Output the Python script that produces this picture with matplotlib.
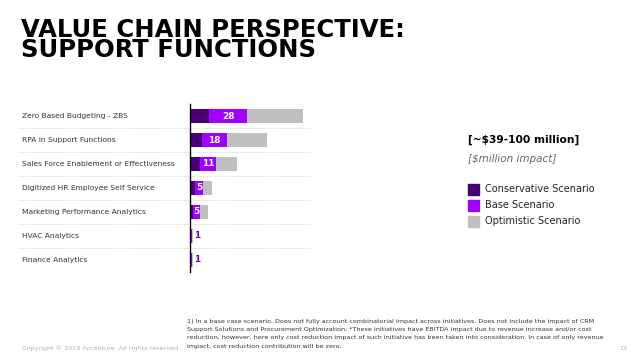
import matplotlib
matplotlib.use('Agg')
import matplotlib.pyplot as plt
import matplotlib.transforms as mtransforms
from matplotlib.patches import Rectangle

# data
initiatives = ['Zero Based Budgeting - ZBS',
               'RPA in Support Functions',
               'Sales Force Enablement or Effectiveness',
               'Digitized HR Employee Self Service',
               'Marketing Performance Analytics',
               'HVAC Analytics',
               'Finance Analytics']
conservative = [9.5, 6, 5, 2.5, 1.5, 0, 0]
base = [28, 18, 12.5, 6.3, 5, 1, 1]
optimistic = [55.5, 37.5, 23, 11, 9, 1.5, 1.5]
base_labels = ['28', '18', '11', '5', '5', '1', '1']
legend_names = ['Conservative Scenario', 'Base Scenario', 'Optimistic Scenario']

DARK = '#460073'
PURPLE = '#a100ff'
GREY = '#bfbfbf'
W, H = 638, 359

fig = plt.figure(figsize=(W/100, H/100), dpi=100)
fig.patch.set_facecolor('w')

# axes spans pixel x 190..310, y 104..272
ax = fig.add_axes([190/W, 1-272/H, 120/W, 168/H])
ax.set_xlim(0, 120/2.04)
ax.set_ylim(6.5, -0.5)
ax.axis('off')

ys = list(range(len(initiatives)))
h = 0.55
ax.barh(ys, optimistic, height=h, color=GREY, lw=0)
ax.barh(ys, base, height=h, color=PURPLE, lw=0)
ax.barh(ys, conservative, height=h, color=DARK, lw=0)

for i, lab in enumerate(base_labels):
    if base[i] >= 4:
        ax.text((conservative[i] + base[i]) / 2, i, lab, color='w', fontsize=6.5,
                fontweight='bold', ha='center', va='center')
    else:
        ax.text(base[i] + 2.3, i, lab, color='#7500c0', fontsize=6.3,
                fontweight='bold', ha='center', va='center')

# labels and dotted separators
blend = mtransforms.blended_transform_factory(fig.transFigure, ax.transData)
for i, name in enumerate(initiatives):
    ax.text(22/W, i, name, transform=blend, fontsize=5.4, color='#333333',
            ha='left', va='center')
for i in range(len(initiatives) - 1):
    ax.plot([19/W, 310/W], [i + 0.5, i + 0.5], transform=blend, color='#c8c8c8',
            lw=0.6, ls=(0, (1, 1.5)), clip_on=False)

# vertical axis line
ax.plot([0, 0], [-0.5, 6.5], color='k', lw=1.0, clip_on=False)

# title
fig.text(21/W, 1-18/H, 'VALUE CHAIN PERSPECTIVE:\nSUPPORT FUNCTIONS', fontsize=17.5,
         fontweight='bold', family='DejaVu Sans', ha='left', va='top', color='k',
         linespacing=0.8)

# legend block
fig.text(468/W, 1-140/H, '[~$39-100 million]', fontsize=7.7, fontweight='bold',
         ha='left', va='center', color='k')
fig.text(468/W, 1-159/H, '[$million impact]', fontsize=7.5, style='italic',
         ha='left', va='center', color='#666666')
for c, name, yc in zip([DARK, PURPLE, GREY], legend_names, [189, 205, 221]):
    fig.add_artist(Rectangle((468/W, 1-(yc+5.5)/H), 11/W, 11/H, color=c,
                             transform=fig.transFigure))
    fig.text(485/W, 1-yc/H, name, fontsize=7, ha='left', va='center', color='#222222')

# footnote
note = ('1) In a base case scenario. Does not fully account combinatorial impact across initiatives. Does not include the impact of CRM\n'
        'Support Solutions and Procurement Optimization; *These initiatives have EBITDA impact due to revenue increase and/or cost\n'
        'reduction, however, here only cost reduction impact of such initiative has been taken into consideration. In case of only revenue\n'
        'impact, cost reduction contribution will be zero.')
fig.text(187/W, 1-319/H, note, fontsize=4.6, ha='left', va='top', color='#333333',
         linespacing=1.8)
fig.text(22/W, 1-348/H, 'Copyright \u00a9 2019 Accenture. All rights reserved.', fontsize=4.6,
         color='#b0b0b0', ha='left', va='center')
fig.text(623/W, 1-348/H, '13', fontsize=4.6, color='#b0b0b0', ha='center', va='center')

fig.savefig('out.png', dpi=100)
